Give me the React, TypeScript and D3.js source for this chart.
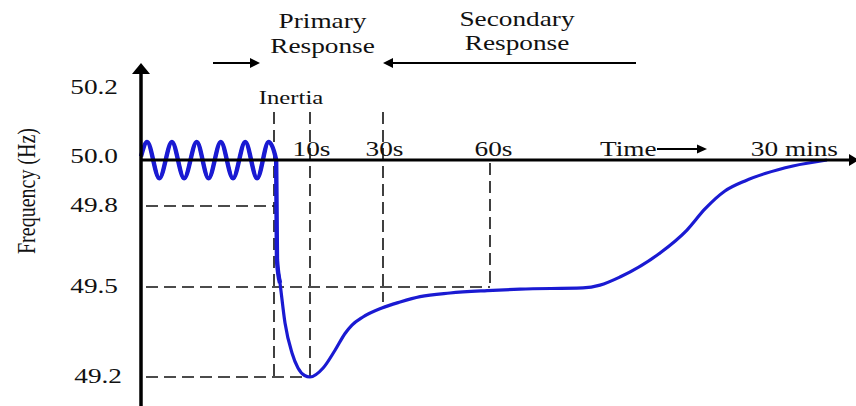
import React from 'react';
import * as d3 from 'd3';

const W = 856;
const H = 406;

// Pre-disturbance oscillation (time in s relative to the event, frequency in Hz)
const oscTimes = [-37, -35.3, -31.9, -28.4, -25.0, -21.5, -18.2, -14.8, -11.4, -8.0, -4.7, -1.5];
const oscFreqs = [50.01, 50.05, 49.92, 50.05, 49.92, 50.05, 49.92, 50.05, 49.92, 50.05, 49.92, 50.05];

// Inertial drop right after the event
const dropTimes = [0.6, 0.7, 0.83, 1.67];
const dropFreqs = [50.0, 49.8, 49.6, 49.515];

// Primary and secondary response
const respTimes = [3.06, 5.0, 6.67, 8.5, 10, 13.6, 16.9, 19.6, 21.5, 24.5, 29.7, 34.8, 40.4, 48.8, 59.2, 215, 540, 628, 731, 938, 1077, 1170, 1273, 1377, 1480, 1624, 1800];
const respFreqs = [49.38, 49.28, 49.23, 49.205, 49.2, 49.23, 49.29, 49.345, 49.373, 49.4, 49.43, 49.45, 49.468, 49.48, 49.488, 49.493, 49.497, 49.507, 49.537, 49.626, 49.711, 49.789, 49.865, 49.909, 49.941, 49.974, 50.0];

// Axis ticks (schematic, non-uniform)
const freqTicks = [49.2, 49.5, 49.8, 50.0, 50.2];
const freqTickLabels = ['49.2', '49.5', '49.8', '50.0', '50.2'];

// Time markers
const markerTimes = [0, 10, 30, 60];
const markerLabels = ['Inertia', '10s', '30s', '60s'];
const endTime = 1800;
const endLabel = '30 mins';

// Horizontal guides: frequency level and time where guide ends
const guideFreqs = [49.8, 49.5, 49.2];
const guideTimes = [0, 60, 10];

const FONT = "'Liberation Serif','Times New Roman',serif";
const BLUE = '#1a1ad2';

function Label({ x, y, anchor = 'middle', size = 21, rotate = false, children }: any) {
  return (
    <text
      transform={`translate(${x},${y}) scale(1.3,1)${rotate ? ' rotate(-90)' : ''}`}
      textAnchor={anchor}
      fontSize={size}
      fontFamily={FONT}
      fill="#111"
    >
      {children}
    </text>
  );
}

export default function App() {
  const x = d3.scaleLinear().domain([-37, 0, 10, 30, 60, 1800]).range([141, 274, 310, 383, 490, 827]);
  const y = d3.scaleLinear().domain(freqTicks).range([377, 287, 206, 160, 88]);

  const toPts = (ts: number[], fs: number[]) => ts.map((t, i) => [t, fs[i]] as [number, number]);
  const early = [...toPts(oscTimes, oscFreqs), ...toPts(dropTimes, dropFreqs)];
  const all = [...early, ...toPts(respTimes, respFreqs)];

  const line = d3
    .line<[number, number]>()
    .x((d) => x(d[0]))
    .y((d) => y(d[1]))
    .curve(d3.curveMonotoneX);

  const axisX = x(-37);
  const axisY = y(50.0);
  const guideLeft = 146;
  const markerTop = 112;
  const dash = '12,6';

  return (
    <svg width={W} height={H} style={{ position: 'absolute', left: 0, top: 0, background: '#fff' }}>
      {/* dashed guides */}
      {markerTimes.map((t, i) => (
        <line
          key={'mv' + i}
          x1={x(t)}
          x2={x(t)}
          y1={t === 60 ? axisY + 3 : markerTop}
          y2={t === 30 ? 302 : t === 60 ? y(49.5) : y(49.2)}
          stroke="#111"
          strokeWidth={1.6}
          strokeDasharray={dash}
        />
      ))}
      {guideFreqs.map((f, i) => (
        <line
          key={'gh' + i}
          x1={guideLeft}
          x2={x(guideTimes[i])}
          y1={y(f)}
          y2={y(f)}
          stroke="#111"
          strokeWidth={1.6}
          strokeDasharray={dash}
        />
      ))}

      {/* curve */}
      <path d={line(all) || ''} fill="none" stroke={BLUE} strokeWidth={3.2} strokeLinejoin="round" />
      <path d={line(early) || ''} fill="none" stroke={BLUE} strokeWidth={4.4} strokeLinejoin="round" />

      {/* axes */}
      <line x1={axisX} x2={axisX} y1={70} y2={H} stroke="#000" strokeWidth={3.5} />
      <path d={`M${axisX},63 L${axisX - 9},74 L${axisX + 9},74 Z`} fill="#000" />
      <line x1={axisX} x2={850} y1={axisY} y2={axisY} stroke="#000" strokeWidth={3} />
      <path d={`M859,${axisY} L849,${axisY - 6} L849,${axisY + 6} Z`} fill="#000" />

      {/* y tick labels */}
      {freqTicks.map((f, i) => (
        <Label key={'yt' + i} x={f === 49.2 ? 122 : 118} y={y(f) + (f === 50.0 ? 3 : 6)} anchor="end">
          {freqTickLabels[i]}
        </Label>
      ))}
      <Label x={35} y={191} size={20} rotate>
        Frequency (Hz)
      </Label>

      {/* time marker labels */}
      <Label x={x(0) + 17} y={104} size={19}>
        {markerLabels[0]}
      </Label>
      {markerTimes.slice(1).map((t, i) => (
        <Label key={'ml' + i} x={x(t) + (t === 60 ? 3.5 : 1.5)} y={156}>
          {markerLabels[i + 1]}
        </Label>
      ))}
      <Label x={x(endTime) + 11} y={156} anchor="end">
        {endLabel}
      </Label>
      <Label x={600} y={156} anchor="start">
        Time
      </Label>
      <line x1={657} x2={698} y1={149} y2={149} stroke="#000" strokeWidth={2} />
      <path d="M707,149 L697,144.5 L697,153.5 Z" fill="#000" />

      {/* response headings */}
      <Label x={322.5} y={28}>Primary</Label>
      <Label x={322.5} y={53}>Response</Label>
      <Label x={517} y={26}>Secondary</Label>
      <Label x={517} y={50}>Response</Label>

      <line x1={213} x2={251} y1={63} y2={63} stroke="#000" strokeWidth={2} />
      <path d="M260,63 L250,58 L250,68 Z" fill="#000" />
      <line x1={392} x2={636} y1={63} y2={63} stroke="#000" strokeWidth={2} />
      <path d="M383,63 L393,58 L393,68 Z" fill="#000" />
    </svg>
  );
}
